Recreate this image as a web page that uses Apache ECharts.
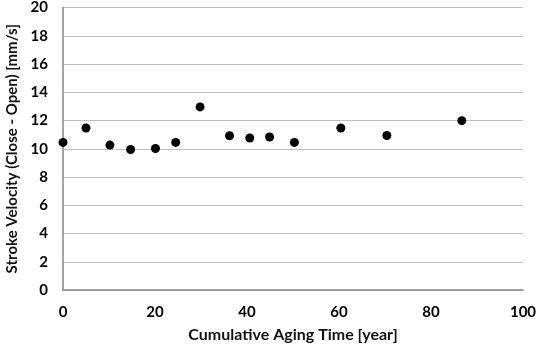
<!DOCTYPE html>
<html><head><meta charset="utf-8">
<script src="https://cdn.jsdelivr.net/npm/echarts@6/dist/echarts.min.js"></script>
<style>html,body{margin:0;padding:0;background:#fff}#c{width:544px;height:347px}</style>
</head><body><div id="c"></div>
<script>
const agingYears = [0, 5, 10.2, 14.7, 20.1, 24.5, 29.8, 36.2, 40.6, 44.9, 50.3, 60.4, 70.4, 86.7];
const strokeVelocity = [10.45, 11.47, 10.26, 9.95, 10.02, 10.45, 12.96, 10.92, 10.76, 10.83, 10.45, 11.47, 10.94, 11.99];
const xTitle = 'Cumulative Aging Time [year]';
const yTitle = 'Stroke Velocity (Close - Open) [mm/s]';

const chart = echarts.init(document.getElementById('c'), null, {renderer: 'canvas'});
const font = 'Lato, "Open Sans", sans-serif';
chart.setOption({
  animation: false,
  grid: {left: 63, right: 21, top: 7.5, bottom: 57, containLabel: false, outerBoundsMode: 'none'},
  xAxis: {
    type: 'value', min: 0, max: 100, interval: 20,
    name: xTitle, nameLocation: 'middle', nameGap: 37,
    nameTextStyle: {fontFamily: font, fontWeight: 'bold', fontSize: 16, color: '#111'},
    axisLine: {show: true, lineStyle: {color: '#868686', width: 1.5}},
    axisTick: {show: false},
    splitLine: {show: false},
    axisLabel: {fontFamily: font, fontWeight: 'bold', fontSize: 15, color: '#000', margin: 15}
  },
  yAxis: {
    type: 'value', min: 0, max: 20, interval: 2,
    name: yTitle, nameLocation: 'middle', nameGap: 32,
    nameTextStyle: {fontFamily: font, fontWeight: 'bold', fontSize: 15, color: '#111'},
    axisLine: {show: true, lineStyle: {color: '#868686', width: 1.5}},
    axisTick: {show: false},
    splitLine: {show: true, lineStyle: {color: '#c0c0c0', width: 1}},
    axisLabel: {fontFamily: font, fontWeight: 'bold', fontSize: 15, color: '#000', margin: 15}
  },
  series: [{
    type: 'scatter',
    data: agingYears.map((x, i) => [x, strokeVelocity[i]]),
    symbol: 'circle', symbolSize: 9,
    itemStyle: {color: '#000', opacity: 1}
  }]
});
</script></body></html>
